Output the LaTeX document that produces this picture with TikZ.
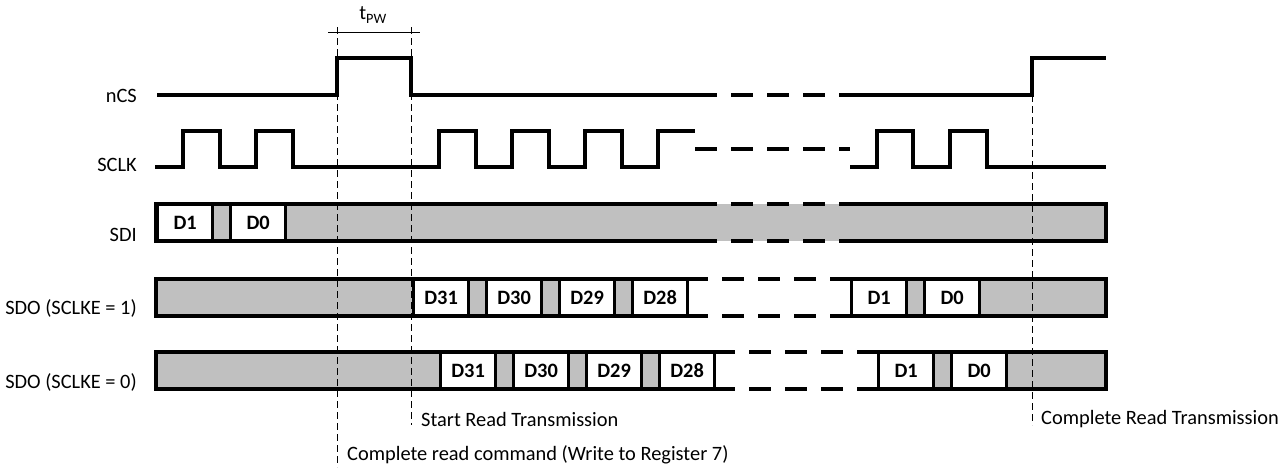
\documentclass[tikz,border=0pt]{standalone}
\usepackage{fontspec}
\setmainfont{Carlito}
\definecolor{busgrey}{RGB}{192,192,192}
\newcommand\diagfont{\fontsize{20.4}{24}\selectfont}
\tikzset{
  wave/.style={line width=3.2pt},
  gapwave/.style={line width=3.2pt, dash pattern=on 22pt off 14pt},
  marker/.style={line width=0.8pt, dash pattern=on 7pt off 4pt},
  bitcell/.style={draw, line width=3.2pt, fill=white, anchor=west, minimum width=55pt, minimum height=37pt, inner sep=0pt, font=\diagfont\bfseries},
  signame/.style={anchor=east, inner sep=0pt},
  note/.style={anchor=west, inner sep=0pt}
}
\begin{document}
\begin{tikzpicture}[x=1pt, y=-1pt, font=\diagfont]
\useasboundingbox (0,0) rectangle (1286,467);

% signal names
\node[signame] (ncs) at (137,96) {nCS};
\node[signame] (sclk) at (137,165) {SCLK};
\node[signame] (sdi) at (137,235) {SDI};
\node[signame] (sdoa) at (137,308) {SDO (SCLKE = 1)};
\node[signame] (sdob) at (137,382) {SDO (SCLKE = 0)};

% nCS
\draw[wave] (157,95) -| (337,58) -| (411,95) -- (695,95);
\draw[gapwave] (695,95) -- (840,95);
\draw[wave] (840,95) -| (1032,58) -- (1106,58);

% SCLK
\draw[wave] (155,167) -| (183,131) -| (220,167) -| (256,131) -| (293,167) -| (439,131) -| (476,167)
  -| (512,131) -| (549,167) -| (585,131) -| (622,167) -| (658,131) -- (695,131);
\draw[gapwave] (695,149) -- (850,149);
\draw[wave] (850,167) -| (877,131) -| (913,167) -| (950,131) -| (987,167) -- (1106,167);

% SDI
\fill[busgrey] (156,204) rectangle (1106,241);
\foreach \lbl/\x in {D1/156, D0/229}
  \node[bitcell] (sdi-\lbl) at (\x,222.5) {\lbl};
\draw[wave] (695,204) -- (156,204) -- (156,241) -- (695,241);
\draw[wave] (840,204) -- (1106,204) -- (1106,241) -- (840,241);
\draw[gapwave] (695,204) -- (840,204) (695,241) -- (840,241);

% SDO (SCLKE = 1)
\fill[busgrey] (156,279) rectangle (686,316) (850,279) rectangle (1106,316);
\foreach \lbl/\x in {D31/412, D30/485, D29/558, D28/631, D1/850, D0/923}
  \node[bitcell] (sdoa-\lbl) at (\x,297.5) {\lbl};
\draw[wave] (686,279) -- (156,279) -- (156,316) -- (686,316);
\draw[wave] (850,279) -- (1106,279) -- (1106,316) -- (850,316);
\draw[gapwave] (686,279) -- (850,279) (686,316) -- (850,316);

% SDO (SCLKE = 0)
\fill[busgrey] (156,352) rectangle (713,389) (877,352) rectangle (1106,389);
\foreach \lbl/\x in {D31/439, D30/512, D29/585, D28/658, D1/877, D0/950}
  \node[bitcell] (sdob-\lbl) at (\x,370.5) {\lbl};
\draw[wave] (713,352) -- (156,352) -- (156,389) -- (713,389);
\draw[wave] (877,352) -- (1106,352) -- (1106,389) -- (877,389);
\draw[gapwave] (713,352) -- (877,352) (713,389) -- (877,389);

% markers
\draw[marker] (337,27) -- (337,467);
\draw[marker] (411,27) -- (411,425);
\draw[marker] (1032,95) -- (1032,425);
\draw[line width=0.8pt] (328,32) -- (420,32);
\node (tpw) at (373,15) {t\textsubscript{PW}};

\node[note] (start) at (421,419) {Start Read Transmission};
\node[note] (cmd) at (347,455) {Complete read command (Write to Register 7)};
\node[note] (done) at (1041,419) {Complete Read Transmission};
\end{tikzpicture}
\end{document}
